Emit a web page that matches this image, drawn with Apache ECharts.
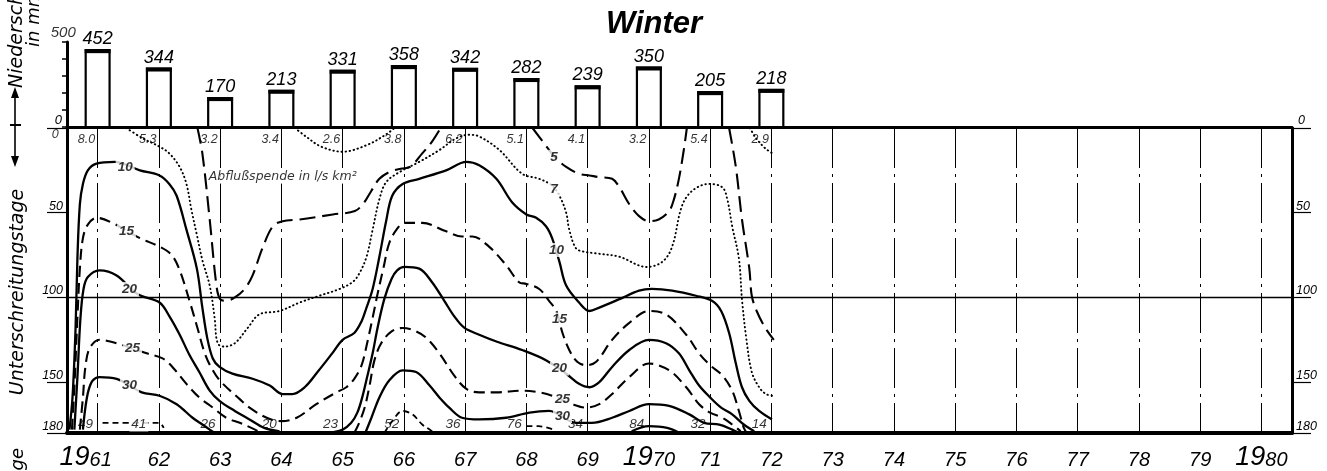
<!DOCTYPE html>
<html>
<head>
<meta charset="utf-8">
<script src="https://cdn.jsdelivr.net/npm/echarts@6/dist/echarts.min.js"></script>
<style>
html,body{margin:0;padding:0;background:#fff}
#chart{width:1327px;height:471px}
</style>
</head>
<body>
<div id="chart"></div>
<script>
// Winter precipitation in mm, one bar per winter
const barYears = [1961, 1962, 1963, 1964, 1965, 1966, 1967, 1968, 1969, 1970, 1971, 1972];
const precipitation = [452, 344, 170, 213, 331, 358, 342, 282, 239, 350, 205, 218];

// Lowest (0 days) and highest (180 days) runoff yield per winter, l/s km²
const minYield = ['8.0', '5.3', '3.2', '3.4', '2.6', '3.8', '6.2', '5.1', '4.1', '3.2', '5.4', '2.9'];
const maxYield = ['49', '41', '26', '20', '23', '52', '36', '76', '34', '84', '32', '14'];

// Year axis labels and day ticks
const axisYears = [1961, 1962, 1963, 1964, 1965, 1966, 1967, 1968, 1969, 1970,
                   1971, 1972, 1973, 1974, 1975, 1976, 1977, 1978, 1979, 1980];
const dayTicks = [0, 50, 100, 150, 180];
const dayLabels = [50, 100, 150, 180];

// Isolines of runoff yield: [year, days below]
const iso3a = [[1964.22,0],[1964.4,5],[1964.65,11],[1965.0,14],[1965.4,10],[1965.7,4],[1965.85,0]];
const iso3b = [[1971.65,0],[1971.75,6],[1971.9,12],[1972.02,15]];

const iso5a = [[1962.63,0],[1962.71,15],[1962.83,54],[1962.94,93],[1963.0,101],[1963.1,102],[1963.24,100],
  [1963.4,95],[1963.53,87],[1963.69,71],[1963.86,58],[1964.02,55],[1964.3,54],[1964.84,51],[1965.2,49],
  [1965.35,44],[1965.47,37],[1965.6,30],[1965.76,26],[1965.95,24],[1966.1,23],[1966.3,15],[1966.46,8],[1966.6,0]];
const iso5b = [[1968.1,0],[1968.29,9],[1968.46,17],[1968.65,23],[1968.86,27],[1969.03,28],[1969.19,29],
  [1969.4,30],[1969.52,35],[1969.68,45],[1969.84,52],[1970.0,55],[1970.16,54],[1970.33,49],[1970.41,42],
  [1970.49,30],[1970.57,13],[1970.62,0]];
const iso5c = [[1971.31,0],[1971.42,23],[1971.52,54],[1971.64,83],[1971.68,99],[1971.76,108],[1971.9,118],[1972.04,125]];

const iso7 = [[1961.47,0],[1961.73,6],[1962.01,11],[1962.17,15],[1962.34,23],[1962.45,33],[1962.53,48],
  [1962.62,63],[1962.71,78],[1962.83,93],[1962.91,112],[1962.96,127],[1963.07,129],[1963.24,127],
  [1963.45,118],[1963.64,110],[1963.97,108],[1964.3,103],[1964.62,99],[1964.95,95],[1965.16,91],
  [1965.27,86],[1965.39,76],[1965.49,60],[1965.6,42],[1965.71,32],[1965.93,26],[1966.25,20],[1966.58,13],
  [1966.86,6],[1967.07,4],[1967.23,5],[1967.56,13],[1967.93,27],[1968.21,30],[1968.42,34],[1968.54,40],
  [1968.65,50],[1968.7,60],[1968.81,71],[1968.94,73],[1969.14,74],[1969.52,76],[1969.96,82],[1970.22,79],
  [1970.38,70],[1970.54,46],[1970.71,37],[1970.98,33],[1971.2,35],[1971.28,42],[1971.36,58],[1971.47,77],
  [1971.52,101],[1971.59,124],[1971.68,144],[1971.8,153],[1971.91,157],[1972.01,158]];

const iso10 = [[1960.54,178],[1960.59,159],[1960.64,118],[1960.67,77],[1960.71,45],[1960.76,33],[1960.84,25],
  [1960.98,21],[1961.28,20],[1961.69,25],[1962.01,28],[1962.17,33],[1962.29,40],[1962.45,60],[1962.62,83],
  [1962.71,106],[1962.79,124],[1962.88,136],[1962.99,141],[1963.2,145],[1963.53,148],[1963.81,152],
  [1964.02,157],[1964.18,157],[1964.38,153],[1964.59,144],[1964.83,133],[1965.0,125],[1965.19,121],
  [1965.31,114],[1965.39,106],[1965.49,95],[1965.6,76],[1965.71,55],[1965.81,40],[1965.98,33],[1966.25,30],
  [1966.69,25],[1967.02,20],[1967.23,22],[1967.51,30],[1967.77,44],[1968.0,51],[1968.16,53],[1968.32,58],
  [1968.42,65],[1968.54,79],[1968.65,93],[1968.86,103],[1969.03,108],[1969.19,106],[1969.52,101],
  [1969.84,96],[1970.05,95],[1970.38,96],[1970.77,99],[1971.03,102],[1971.18,108],[1971.31,121],
  [1971.42,139],[1971.52,153],[1971.64,161],[1971.8,167],[1972.01,172]];

const iso15 = [[1960.58,178],[1960.62,153],[1960.67,112],[1960.71,83],[1960.76,65],[1960.84,57],[1960.98,53],
  [1961.24,56],[1961.69,65],[1962.01,70],[1962.21,75],[1962.34,84],[1962.5,102],[1962.63,118],[1962.75,133],
  [1962.88,143],[1963.02,150],[1963.32,160],[1963.48,165],[1963.76,171],[1964.0,173],[1964.25,171],
  [1964.57,163],[1964.9,156],[1965.06,153],[1965.19,148],[1965.31,140],[1965.4,127],[1965.49,112],
  [1965.57,98],[1965.67,82],[1965.76,68],[1965.88,60],[1966.01,56],[1966.3,56],[1966.69,61],[1966.95,64],
  [1967.12,64],[1967.39,70],[1967.67,81],[1967.88,91],[1968.0,92],[1968.21,95],[1968.37,102],[1968.49,108],
  [1968.59,121],[1968.7,131],[1968.83,138],[1968.98,140],[1969.14,138],[1969.4,125],[1969.68,115],
  [1970.0,108],[1970.28,110],[1970.61,122],[1970.82,133],[1971.0,140],[1971.2,146],[1971.36,155],
  [1971.47,167],[1971.55,177],[1971.6,180]];

const iso20a = [[1960.62,178],[1960.67,147],[1960.72,112],[1960.77,95],[1960.84,88],[1961.03,84],[1961.31,87],
  [1961.65,98],[1962.01,103],[1962.17,111],[1962.34,122],[1962.5,134],[1962.66,144],[1962.83,155],
  [1962.99,161],[1963.24,167],[1963.48,172],[1963.72,177],[1963.97,179]];
const iso20b = [[1964.78,180],[1965.0,178],[1965.14,174],[1965.24,168],[1965.32,159],[1965.4,147],[1965.49,133],
  [1965.57,118],[1965.68,101],[1965.8,89],[1965.89,84],[1966.01,82],[1966.25,83],[1966.46,91],[1966.66,102],
  [1966.82,111],[1966.99,118],[1967.23,122],[1967.51,126],[1967.93,131],[1968.32,137],[1968.65,145],
  [1968.86,151],[1969.03,153],[1969.19,150],[1969.4,141],[1969.68,131],[1970.0,125],[1970.28,127],
  [1970.49,133],[1970.66,143],[1970.82,152],[1971.0,159],[1971.18,165],[1971.36,169],[1971.55,175],[1971.72,179]];

const iso25a = [[1960.71,178],[1960.76,159],[1960.8,141],[1960.87,130],[1961.03,125],[1961.31,127],[1961.8,133],
  [1962.06,136],[1962.22,141],[1962.45,151],[1962.66,159],[1962.88,165],[1963.1,171],[1963.32,174],
  [1963.51,177],[1963.68,180]];
const iso25b = [[1965.19,180],[1965.27,174],[1965.36,165],[1965.44,152],[1965.52,137],[1965.63,127],[1965.8,120],
  [1965.98,118],[1966.2,120],[1966.37,124],[1966.58,133],[1966.82,146],[1967.02,154],[1967.23,156],
  [1967.51,156],[1967.93,155],[1968.21,156],[1968.42,158],[1968.75,163],[1968.98,165],[1969.19,163],
  [1969.4,157],[1969.68,147],[1970.0,139],[1970.33,143],[1970.61,153],[1970.82,163],[1971.0,168],
  [1971.2,171],[1971.36,175],[1971.5,179]];

const iso30a = [[1960.76,178],[1960.8,165],[1960.85,155],[1960.92,149],[1961.03,147],[1961.31,148],[1961.72,156],
  [1962.01,158],[1962.29,163],[1962.55,171],[1962.71,175],[1962.83,178],[1962.91,180]];
const iso30b = [[1965.37,180],[1965.47,171],[1965.6,159],[1965.76,149],[1965.98,143],[1966.2,144],[1966.42,152],
  [1966.58,159],[1966.74,165],[1966.95,171],[1967.23,172],[1967.67,171],[1968.05,168],[1968.37,167],
  [1968.81,174],[1969.07,174],[1969.4,171],[1969.68,167],[1970.0,163],[1970.33,164],[1970.66,169],
  [1970.9,174],[1971.15,175],[1971.36,178],[1971.47,180]];

const iso40a = [[1961.08,174],[1961.55,174],[1962.0,174],[1962.08,177]];
const iso40b = [[1965.68,180],[1965.81,173],[1965.98,167],[1966.14,169],[1966.3,175],[1966.42,178],[1966.5,180]];
const iso40c = [[1968.0,176],[1968.2,176],[1968.45,178]];
const iso40d = [[1969.72,179],[1970.0,176],[1970.3,177],[1970.5,180]];

// Isoline labels: [text, year, days]
const isoTags = [
  ['10', 1961.45, 23], ['15', 1961.47, 61], ['20', 1961.52, 95], ['25', 1961.57, 130], ['30', 1961.52, 152],
  ['5', 1968.45, 17], ['7', 1968.45, 36], ['10', 1968.49, 72], ['15', 1968.54, 113], ['20', 1968.54, 142],
  ['25', 1968.59, 160], ['30', 1968.59, 170]
];

const FONT = 'Liberation Sans';
const WIDE = 'DejaVu Sans';
const INK = '#000';

const lineKinds = {
  solid:  { type: 'solid', width: 2.3 },
  dashed: { type: [11, 6], width: 2.1 },
  long:   { type: [16, 7], width: 2.1 },
  dotted: { type: [0.5, 3.6], width: 1.9, cap: 'round' },
  short:  { type: [6, 4], width: 1.8 }
};

const isolines = [
  [iso3a, 'dotted'], [iso3b, 'dotted'],
  [iso5a, 'long'], [iso5b, 'long'], [iso5c, 'long'],
  [iso7, 'dotted'], [iso10, 'solid'], [iso15, 'dashed'],
  [iso20a, 'solid'], [iso20b, 'solid'],
  [iso25a, 'dashed'], [iso25b, 'dashed'],
  [iso30a, 'solid'], [iso30b, 'solid'],
  [iso40a, 'short'], [iso40b, 'short'], [iso40c, 'short'], [iso40d, 'solid']
];

const chart = echarts.init(document.getElementById('chart'), null, { renderer: 'canvas' });

const isoSeries = isolines.map(([pts, kind]) => ({
  type: 'line',
  xAxisIndex: 1,
  yAxisIndex: 2,
  data: pts,
  smooth: 0.35,
  symbol: 'none',
  silent: true,
  z: 3,
  lineStyle: Object.assign({ color: INK }, lineKinds[kind])
}));

// label style shared by all text inside the lower panel
function tag(text, extra) {
  return Object.assign({
    show: true, formatter: text, color: INK, fontFamily: FONT, fontStyle: 'italic',
    textBorderWidth: 0, fontSize: 13
  }, extra);
}

const TOP_ROW_DAY = 7;
const BOTTOM_ROW_DAY = 175;
const panelText = [];
barYears.forEach((yr, i) => {
  panelText.push({ value: [yr, TOP_ROW_DAY], label: tag(minYield[i], { position: 'left', distance: 2, fontSize: 12.5 }) });
  const extra = { position: 'left', distance: 4, fontSize: 13.5 };
  if (yr === 1962) { extra.distance = 10; extra.backgroundColor = '#fff'; extra.padding = [0, 2]; }
  panelText.push({ value: [yr, BOTTOM_ROW_DAY], label: tag(maxYield[i], extra) });
});
isoTags.forEach(([t, yr, d]) => {
  panelText.push({ value: [yr, d], label: tag(t, { position: 'inside', fontWeight: 'bold', fontSize: 13.5,
    backgroundColor: '#fff', padding: [0, 2] }) });
});
panelText.push({
  value: [1962.79, 29],
  label: tag('Abflußspende in l/s km²', { position: 'right', distance: 0, fontSize: 12.5, fontFamily: WIDE,
    backgroundColor: '#fff', padding: [0, 1] })
});
panelText.push({ value: [1960.52, 0], label: tag('0', { position: 'left', distance: 9, offset: [0, 7], fontSize: 12.5 }) });

const option = {
  animation: false,
  backgroundColor: '#fff',
  textStyle: { fontFamily: FONT, fontStyle: 'italic', color: INK },
  title: {
    text: 'Winter',
    left: 601,
    top: 4,
    textStyle: { fontFamily: FONT, fontStyle: 'italic', fontWeight: 'bold', fontSize: 31, color: INK }
  },
  grid: [
    { left: 67, right: 35, top: 42, height: 85 },
    { left: 67, right: 35, top: 128, height: 308 }
  ],
  xAxis: [
    {
      gridIndex: 0, type: 'value', min: 1960.5, max: 1980.5,
      axisLine: { show: true, onZero: false, lineStyle: { color: INK, width: 3 } },
      axisTick: { show: false }, axisLabel: { show: false }, splitLine: { show: false }
    },
    {
      gridIndex: 1, type: 'value', min: 1960.5, max: 1980.5,
      axisLine: { show: true, onZero: false, lineStyle: { color: INK, width: 4 } },
      axisTick: { show: false },
      splitLine: { show: false },
      axisLabel: {
        customValues: axisYears,
        margin: 10,
        color: INK,
        formatter: function (v) {
          const yr = Math.round(v);
          const s = String(yr).slice(2);
          if (yr === 1961) return '{c|19}{y|' + s + '}{p|}';
          if (yr === 1970 || yr === 1980) return '{c|19}{y|' + s + '}';
          return '{y|' + s + '}';
        },
        rich: {
          c: { fontFamily: FONT, fontStyle: 'italic', fontSize: 27, verticalAlign: 'bottom', lineHeight: 28, color: INK },
          y: { fontFamily: FONT, fontStyle: 'italic', fontSize: 20, verticalAlign: 'bottom', lineHeight: 28, padding: [0, 0, 1, 0], color: INK },
          p: { width: 24 }
        }
      }
    }
  ],
  yAxis: [
    {
      gridIndex: 0, type: 'value', min: 0, max: 500, interval: 100, position: 'left',
      axisLine: { show: true, lineStyle: { color: INK, width: 3 } },
      axisTick: { show: true, length: 5, lineStyle: { color: INK, width: 1.5 } },
      axisLabel: { customValues: [0], margin: 5, verticalAlign: 'bottom', fontSize: 13, color: INK },
      splitLine: { show: false }
    },
    {
      gridIndex: 0, type: 'value', min: 0, max: 500, position: 'right',
      axisLine: { show: false },
      axisTick: { show: false },
      axisLabel: { customValues: [0], margin: 6, verticalAlign: 'bottom', fontSize: 12.5, color: INK },
      splitLine: { show: false }
    },
    {
      gridIndex: 1, type: 'value', min: 0, max: 180, inverse: true, position: 'left',
      axisLine: { show: true, onZero: false, lineStyle: { color: INK, width: 3 } },
      axisTick: { show: true, customValues: dayTicks, length: 20, lineStyle: { color: INK, width: 1.2 } },
      axisLabel: { customValues: dayLabels, margin: 4, verticalAlign: 'bottom', fontSize: 12.5, color: INK },
      splitLine: { show: false }
    },
    {
      gridIndex: 1, type: 'value', min: 0, max: 180, inverse: true, position: 'right',
      axisLine: { show: true, onZero: false, lineStyle: { color: INK, width: 3 } },
      axisTick: { show: true, customValues: dayTicks, length: 19, lineStyle: { color: INK, width: 1.2 } },
      axisLabel: { customValues: dayLabels, margin: 4, verticalAlign: 'bottom', fontSize: 12.5, color: INK },
      splitLine: { show: false }
    }
  ],
  graphic: [
    { type: 'text', x: 17, y: 88, rotation: Math.PI / 2,
      style: { text: 'Niederschlag', font: 'italic 19px "DejaVu Sans"', fill: INK, align: 'left', verticalAlign: 'middle' } },
    { type: 'text', x: 34, y: 47, rotation: Math.PI / 2,
      style: { text: 'in mm', font: 'italic 18px "DejaVu Sans"', fill: INK, align: 'left', verticalAlign: 'middle' } },
    { type: 'text', x: 18, y: 292, rotation: Math.PI / 2,
      style: { text: 'Unterschreitungstage', font: 'italic 19px "DejaVu Sans"', fill: INK, align: 'center', verticalAlign: 'middle' } },
    { type: 'text', x: 18, y: 448, rotation: Math.PI / 2,
      style: { text: 'Tage', font: 'italic 18px "DejaVu Sans"', fill: INK, align: 'right', verticalAlign: 'middle' } },
    { type: 'line', shape: { x1: 15, y1: 94, x2: 15, y2: 160 }, style: { stroke: INK, lineWidth: 1.6 } },
    { type: 'polygon', shape: { points: [[15, 87], [11, 98], [19, 98]] }, style: { fill: INK } },
    { type: 'polygon', shape: { points: [[15, 167], [11, 156], [19, 156]] }, style: { fill: INK } },
    { type: 'line', shape: { x1: 10, y1: 125, x2: 21, y2: 125 }, style: { stroke: INK, lineWidth: 2 } }
  ],
  series: [
    {
      type: 'custom',
      xAxisIndex: 0,
      yAxisIndex: 0,
      data: barYears.map((yr, i) => [yr, precipitation[i]]),
      clip: false,
      z: 4,
      renderItem: function (params, api) {
        const yr = api.value(0);
        const v = api.value(1);
        const base = api.coord([yr, 0]);
        const top = api.coord([yr, v]);
        const w = api.size([1, 0])[0] * 0.39;
        const x0 = base[0] - w / 2;
        return {
          type: 'group',
          children: [
            { type: 'rect', shape: { x: x0, y: top[1], width: w, height: base[1] - top[1] },
              style: { fill: '#fff', stroke: INK, lineWidth: 2.2 } },
            { type: 'line', shape: { x1: x0 - 1, y1: top[1] + 1, x2: x0 + w + 1, y2: top[1] + 1 },
              style: { stroke: INK, lineWidth: 4 } },
            { type: 'text', x: base[0], y: top[1] - 2,
              style: { text: String(v), align: 'center', verticalAlign: 'bottom',
                       font: 'italic 18px "Liberation Sans"', fill: INK } }
          ]
        };
      }
    },
    {
      type: 'scatter',
      xAxisIndex: 0,
      yAxisIndex: 0,
      symbolSize: 1,
      itemStyle: { color: 'rgba(0,0,0,0)' },
      silent: true,
      data: [{ value: [1960.52, 500], label: tag('500', { position: 'top', distance: 1, offset: [-5, 0], fontSize: 15 }) }]
    },
    {
      type: 'line',
      xAxisIndex: 1,
      yAxisIndex: 2,
      data: [[1960.5, 0]],
      symbol: 'none',
      lineStyle: { opacity: 0 },
      silent: true,
      z: 2,
      markLine: {
        silent: true,
        symbol: ['none', 'none'],
        label: { show: false },
        animation: false,
        data: axisYears.map(yr => ({ xAxis: yr, lineStyle: { color: INK, width: 1, type: [40, 6, 3, 6] } }))
          .concat([{ yAxis: 100, lineStyle: { color: INK, width: 1.3, type: 'solid' } }])
      }
    }
  ].concat(isoSeries).concat([
    {
      type: 'scatter',
      xAxisIndex: 1,
      yAxisIndex: 2,
      symbolSize: 1,
      itemStyle: { color: 'rgba(0,0,0,0)' },
      silent: true,
      z: 6,
      data: panelText
    }
  ])
};

chart.setOption(option);
</script>
</body>
</html>
